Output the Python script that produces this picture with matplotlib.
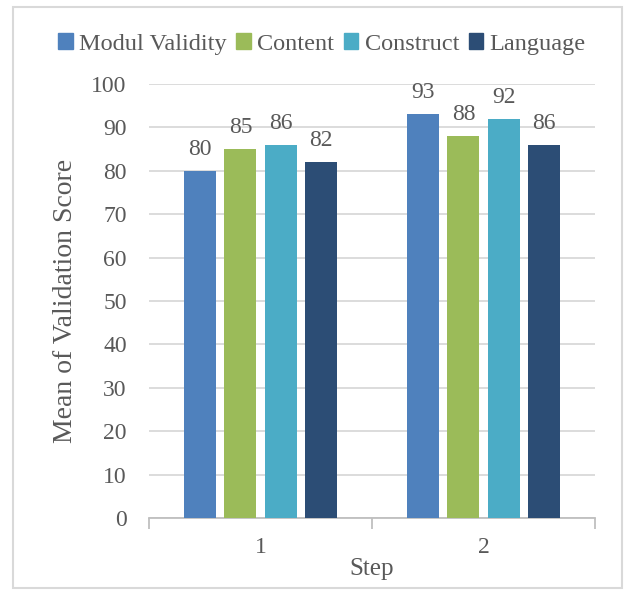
import matplotlib
matplotlib.use("Agg")
import matplotlib.pyplot as plt
from matplotlib.patches import Rectangle, Patch
import numpy as np

steps = ["1", "2"]
series = ["Modul Validity", "Content", "Construct", "Language"]
modul_validity = [80, 93]
content = [85, 88]
construct = [86, 92]
language = [82, 86]
colors = ["#4F81BD", "#9BBB59", "#4BACC6", "#2C4D75"]
values = [modul_validity, content, construct, language]

plt.rcParams['font.family'] = ['Liberation Serif', 'DejaVu Serif']
txt = "#595959"
fs = 17

fig = plt.figure(figsize=(6.24, 5.90), dpi=100)
fig.patches.append(Rectangle((13/624, 1-588/590), 609/624, 581/590, transform=fig.transFigure,
                             fill=False, edgecolor="#D9D9D9", linewidth=1.5))
ax = fig.add_axes([149/624, 1-518/590, 446/624, 434/590])

x = np.arange(len(steps))
width = 0.1435
step = 0.18
offs = [-1.5*step, -0.5*step, 0.5*step, 1.5*step]
for i, (name, vals, c) in enumerate(zip(series, values, colors)):
    bars = ax.bar(x + offs[i], vals, width, color=c, label=name, zorder=3)
    for b, v in zip(bars, vals):
        ax.annotate(str(v), (b.get_x()+b.get_width()/2, v), xytext=(0, 8), textcoords="offset points",
                    ha="center", va="bottom", fontsize=fs, color=txt)

ax.set_xlim(-0.5, 1.5)
ax.set_ylim(0, 100)
ax.set_yticks(np.arange(0, 101, 10))
ax.yaxis.grid(True, color="#D9D9D9", linewidth=1.3, zorder=0)
ax.set_axisbelow(True)
for s in ["top", "right", "left"]:
    ax.spines[s].set_visible(False)
ax.spines["bottom"].set_color("#BFBFBF")
ax.spines["bottom"].set_linewidth(1.3)
ax.tick_params(axis="y", length=0, labelsize=fs, labelcolor=txt, pad=16)
ax.set_xticks(x)
ax.set_xticklabels(steps)
ax.tick_params(axis="x", length=0, labelsize=fs, labelcolor=txt, pad=14)
ax.set_xticks([-0.5, 0.5, 1.5], minor=True)
ax.tick_params(axis="x", which="minor", length=8, color="#BFBFBF", width=1.3, direction="out")
ax.set_xlabel("Step", fontsize=18, color=txt, labelpad=0)
ax.set_ylabel("Mean of Validation Score", fontsize=20, color=txt, labelpad=10)

handles = [Patch(color=c) for c in colors]
fig.legend(handles, series, loc="center", bbox_to_anchor=(322/624, 1-44/590), ncol=4, frameon=False,
           fontsize=17.5, handlelength=0.6, handleheight=0.6, handletextpad=0.25, columnspacing=0.4,
           labelcolor=txt)

fig.savefig("out.png", dpi=100)
